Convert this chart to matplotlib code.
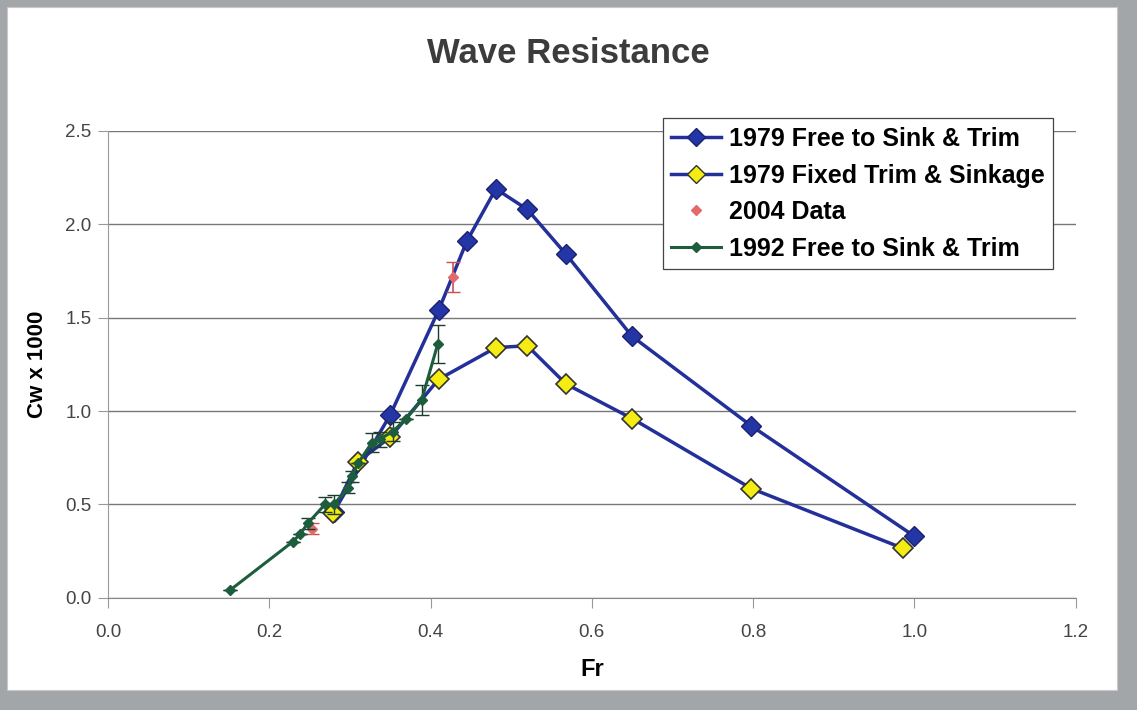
import matplotlib.pyplot as plt
from matplotlib.patches import Rectangle
from matplotlib.lines import Line2D

plt.rcParams['font.family'] = ['Liberation Sans', 'DejaVu Sans']

# 1979 free to sink & trim
fr_free79 = [0.28, 0.35, 0.41, 0.445, 0.481, 0.52, 0.568, 0.65, 0.798, 1.0]
cw_free79 = [0.46, 0.98, 1.54, 1.91, 2.19, 2.08, 1.84, 1.40, 0.92, 0.33]

# 1979 fixed trim & sinkage
fr_fixed79 = [0.279, 0.31, 0.35, 0.41, 0.481, 0.52, 0.568, 0.65, 0.798, 0.986]
cw_fixed79 = [0.455, 0.73, 0.86, 1.17, 1.34, 1.35, 1.145, 0.96, 0.585, 0.265]

# 2004 data
fr_2004 = [0.253, 0.428]
cw_2004 = [0.37, 1.72]
err_2004 = [0.03, 0.08]

# 1992 free to sink & trim
fr_1992 = [0.151, 0.229, 0.238, 0.248, 0.269, 0.28, 0.298, 0.302, 0.31, 0.327, 0.337, 0.353, 0.37, 0.389, 0.409]
cw_1992 = [0.04, 0.30, 0.34, 0.40, 0.50, 0.50, 0.59, 0.65, 0.72, 0.83, 0.85, 0.89, 0.96, 1.06, 1.36]
err_1992 = [0, 0, 0, 0.03, 0.04, 0.05, 0.03, 0.03, 0, 0.05, 0.04, 0.05, 0, 0.08, 0.1]

labels = ['1979 Free to Sink & Trim', '1979 Fixed Trim & Sinkage', '2004 Data', '1992 Free to Sink & Trim']

fig = plt.figure(figsize=(11.37, 7.1), dpi=100)
fig.patch.set_facecolor('#a3a6a8')
fig.add_artist(Rectangle((0.006, 0.028), 0.976, 0.962, transform=fig.transFigure,
                         facecolor='white', edgecolor='#c8c8c8', lw=0.8, zorder=0))

ax = fig.add_axes([0.095, 0.158, 0.851, 0.6575])
ax.set_facecolor('white')

ax.plot(fr_free79, cw_free79, color='#23309a', lw=2.5, marker='D', ms=10,
        mfc='#2436a6', mec='#1a2270', mew=1, zorder=3)
ax.plot(fr_fixed79, cw_fixed79, color='#23309a', lw=2.5, marker='D', ms=10,
        mfc='#f4ec12', mec='#333333', mew=1.2, zorder=4)
ax.errorbar(fr_2004, cw_2004, yerr=err_2004, fmt='D', ms=5, color='#e36a6a',
            ecolor='#c85050', capsize=5, lw=1.2, zorder=5)
ax.errorbar(fr_1992, cw_1992, yerr=err_1992, fmt='-D', ms=5, color='#1d5c3c',
            ecolor='#1d3c2c', capsize=5, elinewidth=1, lw=2.2, zorder=6)

ax.set_xlim(0, 1.2)
ax.set_ylim(0, 2.5)
ax.set_xticks([0.0, 0.2, 0.4, 0.6, 0.8, 1.0, 1.2])
ax.set_yticks([0.0, 0.5, 1.0, 1.5, 2.0, 2.5])
ax.xaxis.set_major_formatter(plt.FormatStrFormatter('%.1f'))
ax.yaxis.set_major_formatter(plt.FormatStrFormatter('%.1f'))
ax.tick_params(labelsize=13.5, labelcolor='#444444', color='#999999', length=7, direction='out')
ax.tick_params(axis='x', pad=12)
ax.tick_params(axis='y', pad=5)
ax.grid(axis='y', color='#777777', lw=1)
ax.set_axisbelow(True)
for s in ['top', 'right']:
    ax.spines[s].set_visible(False)
ax.spines['left'].set_color('#999999')
ax.spines['bottom'].set_color('#888888')

ax.set_xlabel('Fr', fontsize=17, fontweight='bold', labelpad=12)
ax.set_ylabel('Cw x 1000', fontsize=16, fontweight='bold', labelpad=12)
fig.text(0.5, 0.925, 'Wave Resistance', fontsize=25, fontweight='bold', color='#3c3c3c',
         ha='center', va='center')

handles = [
    Line2D([], [], color='#23309a', lw=2.5, marker='D', ms=9, mfc='#2436a6', mec='#1a2270'),
    Line2D([], [], color='#23309a', lw=2.5, marker='D', ms=9, mfc='#f4ec12', mec='#333333'),
    Line2D([], [], ls='none', marker='D', ms=5, color='#e36a6a'),
    Line2D([], [], color='#1d5c3c', lw=2.2, marker='D', ms=5),
]
leg = ax.legend(handles, labels, loc='upper right', bbox_to_anchor=(0.977, 1.027),
                prop={'weight': 'bold', 'size': 18}, fancybox=False, framealpha=1,
                edgecolor='#444444', handlelength=2.0, handletextpad=0.3,
                borderpad=0.35, labelspacing=0.5, borderaxespad=0)
leg.get_frame().set_linewidth(0.9)

fig.savefig('out.png', dpi=100, facecolor=fig.get_facecolor())
